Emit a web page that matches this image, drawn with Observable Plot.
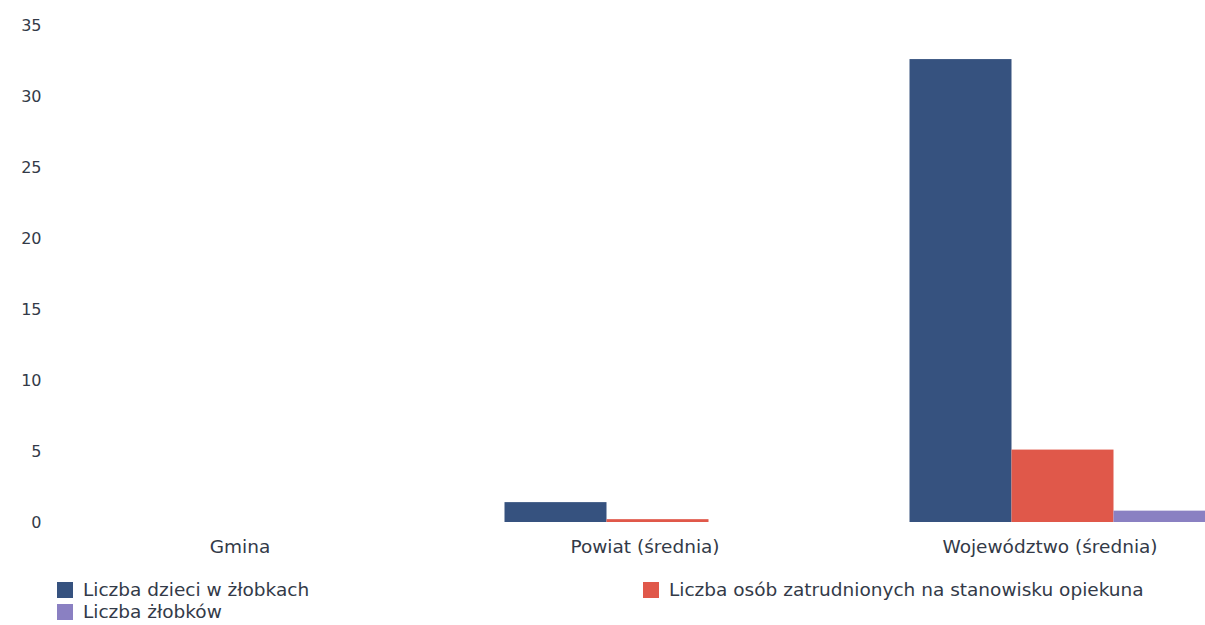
<!DOCTYPE html>
<html>
<head>
<meta charset="utf-8">
<script src="https://cdn.jsdelivr.net/npm/d3@7"></script>
<script src="https://cdn.jsdelivr.net/npm/@observablehq/plot@0.6"></script>
<style>
  html, body { margin: 0; padding: 0; background: #fff; overflow: hidden; }
  #wrap { width: 1205px; overflow: hidden; font-family: "DejaVu Sans", sans-serif; }
  #chart svg { display: block; max-width: none !important; height: 560px !important; }
  .legend { display: grid; grid-template-columns: 586px auto; padding-left: 57px; margin-top: 19px; font-size: 18.5px; color: #333a48; line-height: 22px; }
  .legend span.item { display: flex; align-items: center; white-space: nowrap; }
  .legend span.sw { width: 16px; height: 16px; margin-right: 10px; display: inline-block; flex: none; }
</style>
</head>
<body>
<div id="wrap">
  <div id="chart"></div>
  <div class="legend" id="legend"></div>
</div>
<script>
const groups = ["Gmina", "Powiat (średnia)", "Województwo (średnia)"];
const series = ["Liczba dzieci w żłobkach", "Liczba osób zatrudnionych na stanowisku opiekuna", "Liczba żłobków"];
const dzieci = [0, 1.4, 32.6];
const opiekunowie = [0, 0.2, 5.1];
const zlobki = [0, 0, 0.8];
const colors = ["#36527f", "#e0584a", "#8a80c2"];
const yTicks = [0, 5, 10, 15, 20, 25, 30, 35];

const values = [dzieci, opiekunowie, zlobki];
const data = [];
groups.forEach((g, gi) => series.forEach((s, si) => data.push({group: g, series: s, value: values[si][gi]})));

const chart = Plot.plot({
  width: 1265,
  height: 560,
  marginLeft: 49.5,
  marginRight: 0,
  marginTop: 25,
  marginBottom: 38,
  style: {fontFamily: "DejaVu Sans, sans-serif", fontSize: "16px", color: "#333a48", background: "#fff"},
  fx: {domain: groups, paddingInner: 0.242, paddingOuter: 0.121, label: null},
  x: {domain: series, padding: 0, axis: null},
  y: {domain: [0, 35], ticks: yTicks, label: null},
  color: {domain: series, range: colors},
  marks: [
    Plot.barY(data, {fx: "group", x: "series", y: "value", fill: "series"}),
    Plot.axisY({ticks: yTicks, tickSize: 0, tickPadding: 58, label: null, fontSize: 16}),
    Plot.axisFx({anchor: "bottom", tickSize: 0, tickPadding: 17, label: null, fontSize: 18.5, dx: -13})
  ]
});
document.getElementById("chart").appendChild(chart);

const legendOrder = [0, 1, 2];
const legend = document.getElementById("legend");
legendOrder.forEach(i => {
  const item = document.createElement("span");
  item.className = "item";
  const sw = document.createElement("span");
  sw.className = "sw";
  sw.style.background = colors[i];
  item.appendChild(sw);
  item.appendChild(document.createTextNode(series[i]));
  legend.appendChild(item);
});
</script>
</body>
</html>
